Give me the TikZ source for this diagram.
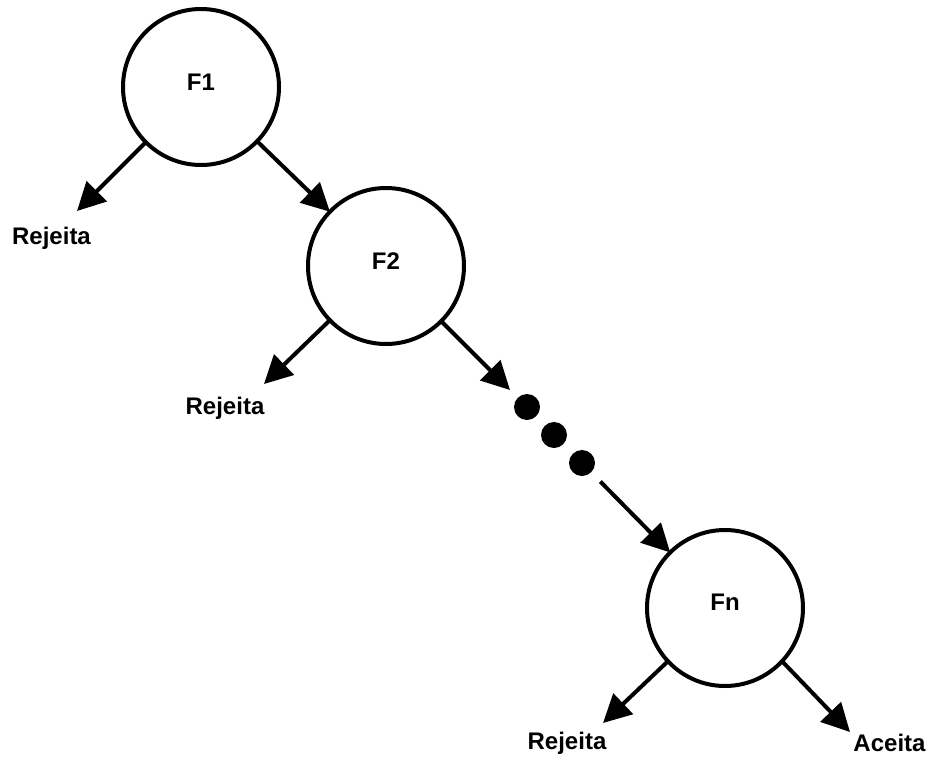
\documentclass[tikz,border=0pt]{standalone}
\usepackage{fontspec}
\setmainfont{Liberation Sans}
\usetikzlibrary{arrows.meta}
\tikzset{
  stage/.style={circle, draw=black, line width=4pt, minimum size=156pt, inner sep=0pt, outer sep=0pt},
  txt/.style={font=\fontsize{24}{28}\selectfont\bfseries, inner sep=0pt},
  blob/.style={circle, fill=black, minimum size=26pt, inner sep=0pt, outer sep=0pt},
  conn/.style={line width=4pt, -{Triangle[length=28pt,width=28pt]}}
}
\begin{document}
\begin{tikzpicture}[x=1pt,y=-1pt]
\useasboundingbox (0,0) rectangle (930,758);
% stages
\node[stage] (F1) at (201,87) {};
\node[txt] (F1t) at (201,82) {F1};
\node[stage] (F2) at (386,266) {};
\node[txt] (F2t) at (386,261) {F2};
\node[stage] (Fn) at (725,608) {};
\node[txt] (Fnt) at (725,602) {Fn};
% dots
\node[blob] (d1) at (527,407) {};
\node[blob] (d2) at (554,435) {};
\node[blob] (d3) at (582,463) {};
% outcome labels
\node[txt] (r1) at (51.5,238) {Rejeita};
\node[txt] (r2) at (225,408) {Rejeita};
\node[txt] (r3) at (567,743) {Rejeita};
\node[txt] (ac) at (889.5,743) {Aceita};
% arrow tips
\coordinate (t1) at (77,211);
\coordinate (t2) at (264,384);
\coordinate (t3) at (603,723);
\coordinate (t4) at (850,732);
% connectors
\draw[conn] (F1) -- (F2);
\draw[conn] (F1.-135) -- (t1);
\draw[conn] (F2.-136) -- (t2);
\draw[conn, shorten >=11pt] (F2) -- (d1);
\draw[conn, shorten <=13pt] (d3) -- (Fn);
\draw[conn] (Fn.-137) -- (t3);
\draw[conn] (Fn.-43) -- (t4);
\end{tikzpicture}
\end{document}
